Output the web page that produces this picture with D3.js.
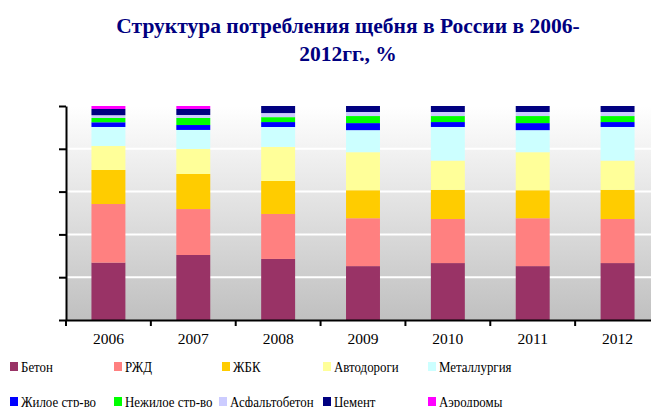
<!DOCTYPE html>
<html>
<head>
<meta charset="utf-8">
<script src="https://cdn.jsdelivr.net/npm/d3@7"></script>
<style>
  body { margin: 0; background: #fff; }
  svg text { font-family: "Liberation Serif", "Times New Roman", serif; }
</style>
</head>
<body>
<div id="chart"></div>
<script>
// Chart size matches the reference picture.
var width = 651,
    height = 407,
    plotLeft = 66,
    plotRight = 660,
    plotTop = 106,
    plotBottom = 320,
    serif = "'Liberation Serif', 'Times New Roman', serif";

// Shares of crushed stone consumption by sector, %.
var keys = ["Бетон", "РЖД", "ЖБК", "Автодороги", "Металлургия",
            "Жилое стр-во", "Нежилое стр-во", "Асфальтобетон", "Цемент", "Аэродромы"];

var colors = {
  "Бетон": "#993366",
  "РЖД": "#ff8080",
  "ЖБК": "#ffcc00",
  "Автодороги": "#ffff99",
  "Металлургия": "#ccffff",
  "Жилое стр-во": "#0000ff",
  "Нежилое стр-во": "#00ff00",
  "Асфальтобетон": "#ccccff",
  "Цемент": "#000080",
  "Аэродромы": "#ff00ff"
};

var data = [
  {year: "2006", "Бетон": 26.8, "РЖД": 27.4, "ЖБК": 15.9, "Автодороги": 11.2, "Металлургия": 8.9,
   "Жилое стр-во": 2.2, "Нежилое стр-во": 2.0, "Асфальтобетон": 1.3, "Цемент": 2.9, "Аэродромы": 1.4},
  {year: "2007", "Бетон": 30.4, "РЖД": 21.5, "ЖБК": 16.4, "Автодороги": 11.7, "Металлургия": 8.9,
   "Жилое стр-во": 2.3, "Нежилое стр-во": 3.3, "Асфальтобетон": 1.4, "Цемент": 2.8, "Аэродромы": 1.4},
  {year: "2008", "Бетон": 28.5, "РЖД": 21.0, "ЖБК": 15.4, "Автодороги": 15.9, "Металлургия": 9.3,
   "Жилое стр-во": 2.3, "Нежилое стр-во": 2.3, "Асфальтобетон": 1.9, "Цемент": 3.3, "Аэродромы": 0},
  {year: "2009", "Бетон": 25.2, "РЖД": 22.4, "ЖБК": 13.1, "Автодороги": 17.8, "Металлургия": 10.3,
   "Жилое стр-во": 3.3, "Нежилое стр-во": 3.3, "Асфальтобетон": 1.9, "Цемент": 2.8, "Аэродромы": 0},
  {year: "2010", "Бетон": 26.6, "РЖД": 20.6, "ЖБК": 13.6, "Автодороги": 13.7, "Металлургия": 15.7,
   "Жилое стр-во": 2.3, "Нежилое стр-во": 2.8, "Асфальтобетон": 1.9, "Цемент": 2.8, "Аэродромы": 0},
  {year: "2011", "Бетон": 25.2, "РЖД": 22.4, "ЖБК": 13.1, "Автодороги": 17.8, "Металлургия": 10.3,
   "Жилое стр-во": 3.3, "Нежилое стр-во": 3.3, "Асфальтобетон": 1.9, "Цемент": 2.8, "Аэродромы": 0},
  {year: "2012", "Бетон": 26.6, "РЖД": 20.6, "ЖБК": 13.6, "Автодороги": 13.7, "Металлургия": 15.7,
   "Жилое стр-во": 2.3, "Нежилое стр-во": 2.8, "Асфальтобетон": 1.9, "Цемент": 2.8, "Аэродромы": 0}
];

var svg = d3.select("#chart").append("svg")
  .attr("width", width)
  .attr("height", height)
  .attr("font-family", serif);

// Plot background: white at the top fading into gray.
var grad = svg.append("defs").append("linearGradient")
  .attr("id", "bg")
  .attr("x1", 0).attr("y1", 0).attr("x2", 0).attr("y2", 1);
grad.append("stop").attr("offset", "0%").attr("stop-color", "#ffffff");
grad.append("stop").attr("offset", "100%").attr("stop-color", "#c0c0c0");

svg.append("rect")
  .attr("x", plotLeft)
  .attr("y", plotTop)
  .attr("width", plotRight - plotLeft)
  .attr("height", plotBottom - plotTop)
  .style("fill", "url(#bg)");

// Scales.
var x = d3.scaleBand()
      .domain(data.map(function (d){ return d.year; }))
      .range([plotLeft, plotRight])
      .paddingInner(0.6)
      .paddingOuter(0.3),
    y = d3.scaleLinear()
      .domain([0, 1])
      .range([plotBottom, plotTop]);

// White gridlines.
svg.append("g")
  .selectAll("line")
  .data(y.ticks(5).slice(1))
  .enter().append("line")
    .attr("x1", plotLeft)
    .attr("x2", plotRight)
    .attr("y1", function (d){ return y(d); })
    .attr("y2", function (d){ return y(d); })
    .style("stroke", "#ffffff")
    .style("stroke-width", 2);

// Stacked bars normalised to 100%.
var series = d3.stack()
  .keys(keys)
  .offset(d3.stackOffsetExpand)(data);

svg.append("g")
  .selectAll("g")
  .data(series)
  .enter().append("g")
    .style("fill", function (s){ return colors[s.key]; })
  .selectAll("rect")
  .data(function (s){ return s; })
  .enter().append("rect")
    .attr("x", function (d){ return x(d.data.year); })
    .attr("width", x.bandwidth())
    .attr("y", function (d){ return y(d[1]); })
    .attr("height", function (d){ return y(d[0]) - y(d[1]); });

// Y axis without labels.
var yAxis = svg.append("g")
  .attr("transform", "translate(" + plotLeft + ",0)")
  .call(d3.axisLeft(y).ticks(5).tickSizeInner(7).tickSizeOuter(0).tickFormat(""));
yAxis.selectAll("path, line").style("stroke", "#000").style("stroke-width", 2);

// X axis: labels centred on bars, ticks between categories.
var xAxis = svg.append("g")
  .attr("transform", "translate(0," + plotBottom + ")")
  .call(d3.axisBottom(x).tickSize(0).tickPadding(13))
  .attr("font-family", serif)
  .attr("font-size", 15.5);
xAxis.select(".domain").style("stroke", "#000").style("stroke-width", 2);
xAxis.selectAll("text").style("fill", "#000");

svg.append("g")
  .selectAll("line")
  .data(data.concat([null]))
  .enter().append("line")
    .attr("x1", function (d, i){ return plotLeft + i * x.step(); })
    .attr("x2", function (d, i){ return plotLeft + i * x.step(); })
    .attr("y1", plotBottom)
    .attr("y2", plotBottom + 6)
    .style("stroke", "#000")
    .style("stroke-width", 2);

// Title.
svg.append("text")
  .attr("text-anchor", "middle")
  .attr("font-family", serif)
  .style("font-weight", "bold")
  .style("font-size", "21.5px")
  .style("fill", "#000080")
  .selectAll("tspan")
  .data(["Структура потребления щебня в России в 2006-", "2012гг., %"])
  .enter().append("tspan")
    .attr("x", 348)
    .attr("y", function (d, i){ return 33 + i * 28; })
    .text(function (d){ return d; });

// Legend: two rows of five (text is a little condensed, as in the original).
var legendX = [10, 114, 222, 323, 428, 10, 114, 219, 323, 428];
var legend = svg.append("g")
  .attr("font-family", serif)
  .selectAll("g")
  .data(keys)
  .enter().append("g")
    .attr("transform", function (d, i){
      return "translate(" + legendX[i] + "," + (362 + Math.floor(i / 5) * 35) + ")";
    });
legend.append("rect")
  .attr("width", 8)
  .attr("height", 9)
  .style("fill", function (d){ return colors[d]; });
legend.append("text")
  .attr("transform", "translate(11,10) scale(0.86,1)")
  .style("font-size", "15px")
  .text(function (d){ return d; });
</script>
</body>
</html>
